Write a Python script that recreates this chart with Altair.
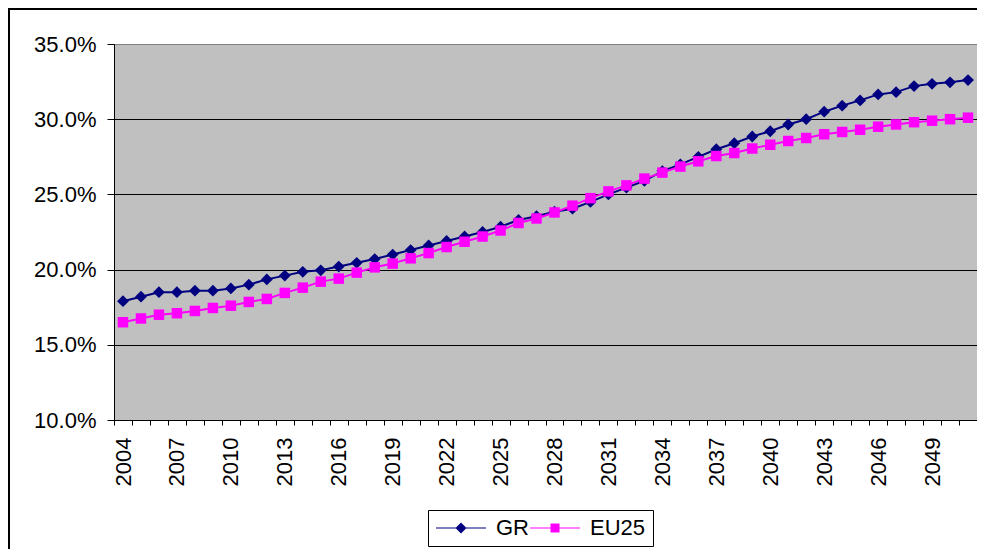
import altair as alt
import pandas as pd

years = list(range(2004, 2052))
gr = [17.9, 18.2, 18.5, 18.5, 18.6, 18.6, 18.75, 19.0, 19.35, 19.6,
      19.85, 19.95, 20.2, 20.45, 20.7, 21.0, 21.3, 21.6, 21.9, 22.2,
      22.5, 22.85, 23.3, 23.55, 23.85, 24.05, 24.5, 25.0, 25.45, 25.9,
      26.55, 27.0, 27.5, 28.0, 28.4, 28.85, 29.2, 29.65, 30.0, 30.5,
      30.9, 31.25, 31.65, 31.8, 32.2, 32.35, 32.45, 32.6]
eu25 = [16.5, 16.75, 17.0, 17.1, 17.25, 17.45, 17.6, 17.85, 18.05, 18.45,
        18.8, 19.2, 19.4, 19.8, 20.15, 20.4, 20.75, 21.1, 21.5, 21.85,
        22.2, 22.6, 23.1, 23.4, 23.8, 24.25, 24.75, 25.2, 25.6, 26.05,
        26.45, 26.85, 27.2, 27.55, 27.75, 28.05, 28.3, 28.55, 28.75, 29.0,
        29.15, 29.3, 29.5, 29.65, 29.8, 29.9, 30.0, 30.1]
series_names = ["GR", "EU25"]
series_colors = ["#000080", "#FF00FF"]
y_ticks = [0.10, 0.15, 0.20, 0.25, 0.30, 0.35]

df = pd.DataFrame({
    "year": years + years,
    "series": ["GR"] * len(years) + ["EU25"] * len(years),
    "value": [v / 100 for v in gr + eu25],
})

FONT = "Liberation Sans"
tick_vals = [y - 0.5 for y in years] + [years[-1] + 0.5]

x_enc = alt.X(
    "year:Q",
    scale=alt.Scale(domain=[years[0] - 0.5, years[-1] + 0.5], nice=False, zero=False),
    axis=alt.Axis(
        values=tick_vals,
        labelExpr="((datum.value + 0.5 - 2004) % 3 == 0 && datum.value < 2051) ? format(datum.value + 0.5, 'd') : ''",
        labelAngle=270, labelOffset=9, tickSize=5, labelPadding=12,
        labelFontSize=22, labelFont=FONT, labelColor="black",
        labelOverlap=False, labelFlush=False, labelBound=False,
        title=None, grid=False, domainColor="black", tickColor="black",
    ),
)
y_enc = alt.Y(
    "value:Q",
    scale=alt.Scale(domain=[0.10, 0.35], nice=False, zero=False),
    axis=alt.Axis(
        values=y_ticks, format=".1%", grid=True,
        gridColor={"condition": {"test": "datum.value > 0.34", "value": "#808080"}, "value": "black"},
        gridWidth=1, tickSize=7, labelPadding=11,
        labelFontSize=22, labelFont=FONT, labelColor="black",
        title=None, domainColor="black", tickColor="black",
    ),
)

base = alt.Chart(df).encode(x=x_enc, y=y_enc)

frame = alt.Chart(pd.DataFrame({"k": [0]})).mark_rect(
    fillOpacity=0, stroke="black", strokeWidth=2
).encode(x=alt.value(-105), x2=alt.value(2000), y=alt.value(-35), y2=alt.value(2000))

gr_line = base.transform_filter("datum.series == 'GR'").mark_line(color=series_colors[0], strokeWidth=2)
gr_pts = base.transform_filter("datum.series == 'GR'").mark_point(
    shape="diamond", filled=True, size=140, color=series_colors[0], opacity=1)
eu_line = base.transform_filter("datum.series == 'EU25'").mark_line(color=series_colors[1], strokeWidth=2)
eu_pts = base.transform_filter("datum.series == 'EU25'").mark_point(
    shape="square", filled=True, size=110, color=series_colors[1], opacity=1)

legend_paths = [
    "M-2,-0.1H8V0.1H-2Z M3,-1.1L4.1,0L3,1.1L1.9,0Z",
    "M-2,-0.1H8V0.1H-2Z M2.1,-0.9H3.9V0.9H2.1Z",
]
leg = alt.Legend(
    title=None, orient="none", legendX=314, legendY=466, direction="horizontal",
    strokeColor="black", padding=7, symbolSize=100, symbolOffset=0,
    labelFontSize=22, labelFont=FONT, labelColor="black", labelOffset=39,
    columnPadding=0, labelLimit=0,
)
legend_layer = base.transform_filter("false").mark_point(filled=True, opacity=1).encode(
    color=alt.Color("series:N", scale=alt.Scale(domain=series_names, range=series_colors), legend=leg),
    shape=alt.Shape("series:N", scale=alt.Scale(domain=series_names, range=legend_paths), legend=leg),
)

chart = alt.layer(frame, gr_line, gr_pts, eu_line, eu_pts, legend_layer).properties(
    width=863, height=376,
    padding={"left": 106, "top": 36, "right": 0, "bottom": 129},
    autosize=alt.AutoSizeParams(type="none"),
    background="white",
).configure(
    font=FONT,
    view=alt.ViewConfig(fill="#C0C0C0", stroke="#808080", strokeWidth=1),
)

chart.save("out.html", embed_options={"renderer": "svg", "actions": False})
